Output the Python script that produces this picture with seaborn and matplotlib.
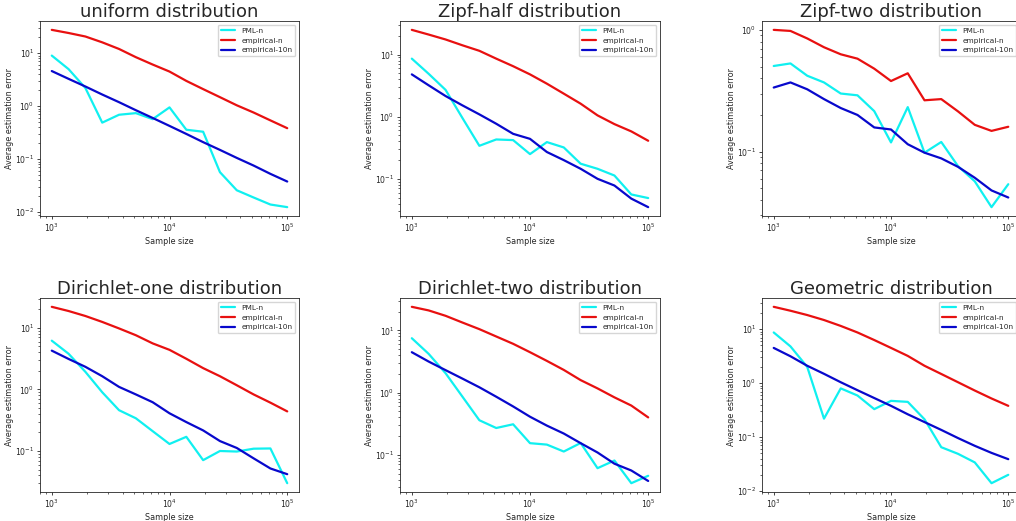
import numpy as np
import pandas as pd
import seaborn as sns
import matplotlib
matplotlib.use("Agg")
import matplotlib.pyplot as plt

# sample sizes (log-spaced from 1e3 to 1e5)
sample_sizes = [1000, 1389, 1931, 2683, 3728, 5179, 7197, 10000,
                13895, 19307, 26827, 37276, 51795, 71969, 100000]

titles = ["uniform distribution", "Zipf-half distribution", "Zipf-two distribution",
          "Dirichlet-one distribution", "Dirichlet-two distribution", "Geometric distribution"]

pml_n = [
    [9.0, 5.0, 2.2, 0.49, 0.69, 0.74, 0.57, 0.95, 0.36, 0.33, 0.057, 0.026, 0.019, 0.014, 0.0125],
    [8.6, 4.9, 2.7, 0.95, 0.34, 0.43, 0.42, 0.25, 0.39, 0.32, 0.175, 0.145, 0.113, 0.056, 0.049],
    [0.505, 0.53, 0.42, 0.37, 0.30, 0.29, 0.215, 0.119, 0.232, 0.098, 0.12, 0.076, 0.057, 0.035, 0.054],
    [6.2, 3.8, 1.93, 0.9, 0.46, 0.34, 0.21, 0.13, 0.17, 0.071, 0.10, 0.098, 0.109, 0.11, 0.030],
    [7.5, 4.2, 2.05, 0.86, 0.36, 0.27, 0.31, 0.154, 0.146, 0.113, 0.155, 0.061, 0.081, 0.035, 0.046],
    [8.7, 4.8, 2.0, 0.22, 0.80, 0.59, 0.33, 0.47, 0.45, 0.214, 0.065, 0.049, 0.034, 0.014, 0.020],
]

empirical_n = [
    [27.5, 24.0, 20.6, 16.0, 12.0, 8.4, 6.1, 4.5, 3.0, 2.1, 1.48, 1.04, 0.76, 0.54, 0.385],
    [25.0, 21.0, 17.5, 14.1, 11.5, 8.6, 6.5, 4.8, 3.4, 2.35, 1.62, 1.05, 0.76, 0.58, 0.41],
    [1.0, 0.98, 0.85, 0.72, 0.63, 0.58, 0.48, 0.38, 0.44, 0.264, 0.27, 0.214, 0.166, 0.148, 0.16],
    [22.0, 18.8, 15.6, 12.5, 9.8, 7.6, 5.6, 4.4, 3.15, 2.22, 1.64, 1.17, 0.83, 0.61, 0.44],
    [24.0, 21.0, 17.2, 13.4, 10.5, 8.0, 6.1, 4.47, 3.24, 2.32, 1.59, 1.17, 0.84, 0.62, 0.40],
    [26.0, 22.0, 18.3, 14.8, 11.5, 8.7, 6.3, 4.5, 3.2, 2.1, 1.48, 1.04, 0.73, 0.52, 0.38],
]

empirical_10n = [
    [4.6, 3.28, 2.35, 1.66, 1.19, 0.84, 0.60, 0.425, 0.30, 0.21, 0.15, 0.106, 0.076, 0.053, 0.038],
    [4.8, 3.2, 2.15, 1.52, 1.09, 0.77, 0.53, 0.44, 0.27, 0.20, 0.145, 0.10, 0.078, 0.048, 0.035],
    [0.336, 0.37, 0.325, 0.27, 0.228, 0.20, 0.158, 0.152, 0.115, 0.098, 0.088, 0.075, 0.061, 0.048, 0.042],
    [4.27, 3.13, 2.33, 1.64, 1.1, 0.83, 0.62, 0.41, 0.295, 0.216, 0.145, 0.112, 0.076, 0.052, 0.042],
    [4.47, 3.16, 2.3, 1.68, 1.22, 0.86, 0.60, 0.41, 0.295, 0.22, 0.154, 0.109, 0.072, 0.056, 0.038],
    [4.5, 3.15, 2.1, 1.49, 1.04, 0.74, 0.53, 0.38, 0.265, 0.19, 0.136, 0.096, 0.069, 0.051, 0.039],
]

series = [("PML-n", pml_n, "#10f0f0"),
          ("empirical-n", empirical_n, "#e81010"),
          ("empirical-10n", empirical_10n, "#0808cc")]

sns.set_style("ticks")
plt.rcParams["font.family"] = ["DejaVu Sans"]

W, H = 1016, 521
fig = plt.figure(figsize=(W / 100, H / 100), dpi=100)

# axes boxes in pixels: left, top, width, height
boxes = [(40, 21, 259, 195), (400, 21, 260, 195), (762, 21, 258, 195),
         (40, 298, 259, 194), (400, 298, 260, 194), (762, 298, 258, 194)]

fs = 5.6
for k, (left, top, w, h) in enumerate(boxes):
    ax = fig.add_axes([left / W, 1 - (top + h) / H, w / W, h / H])
    for name, values, color in series:
        df = pd.DataFrame({"n": sample_sizes, "err": values[k]})
        sns.lineplot(data=df, x="n", y="err", ax=ax, color=color, lw=1.6, label=name)
    ax.set_xscale("log")
    ax.set_yscale("log")
    ax.set_title(titles[k], fontsize=13, pad=2)
    ax.set_xlabel("Sample size", fontsize=5.8, labelpad=2)
    ax.set_ylabel("Average estimation error", fontsize=5.8, labelpad=1)
    ax.tick_params(which="major", labelsize=fs, length=2.5, width=0.6, pad=1.5)
    ax.tick_params(which="minor", length=1.5, width=0.5)
    for sp in ax.spines.values():
        sp.set_linewidth(0.6)
    ax.legend(loc="upper right", fontsize=5.3, handlelength=2.0, frameon=True,
              fancybox=True, borderpad=0.4, labelspacing=0.5)

fig.savefig("out.png", dpi=100)
